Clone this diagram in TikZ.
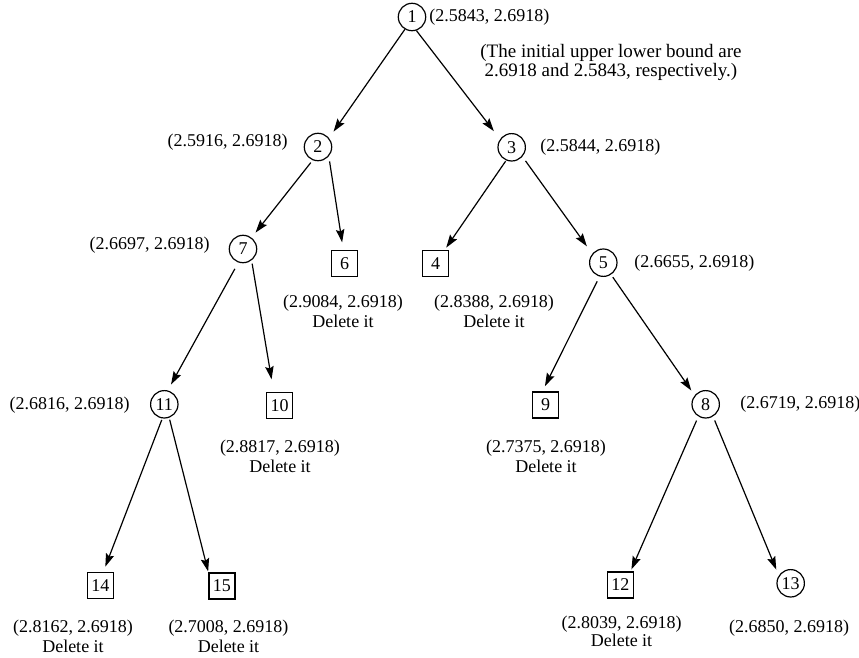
\documentclass[tikz,border=0pt]{standalone}
\usepackage{fontspec}
\setmainfont{Liberation Serif}
\usetikzlibrary{arrows.meta}
\begin{document}
\begin{tikzpicture}[x=0.5pt,y=-0.5pt,
  every node/.style={font=\fontsize{9pt}{10pt}\selectfont, inner sep=0pt},
  cnode/.style={circle, draw, line width=0.6pt, minimum size=13.7pt},
  bnode/.style={rectangle, draw, line width=0.6pt, minimum size=13pt},
  lbl/.style={align=center},
  edge/.style={line width=0.6pt, -{Stealth[length=6.5pt,width=4.2pt,inset=1pt]}},
]
\useasboundingbox (0,0) rectangle (859,658);

% tree nodes
\node[cnode] (n1)  at (412,17)      {1};
\node[cnode] (n2)  at (318,147)     {2};
\node[cnode] (n3)  at (511.7,147.3) {3};
\node[cnode] (n7)  at (243,249)     {7};
\node[bnode] (n6)  at (344.5,263.5) {6};
\node[bnode] (n4)  at (435.5,263.5) {4};
\node[cnode] (n5)  at (603.3,262.7) {5};
\node[cnode] (n11) at (164.3,404.3) {11};
\node[bnode] (n10) at (279.7,405.3) {10};
\node[bnode] (n9)  at (545.7,405)   {9};
\node[cnode] (n8)  at (705.7,404.3) {8};
\node[bnode] (n14) at (100.3,585.8) {14};
\node[bnode] (n15) at (222,586)     {15};
\node[bnode] (n12) at (620.3,585)   {12};
\node[cnode] (n13) at (790.7,583.3) {13};

% edges
\draw[edge, shorten <=0pt,    shorten >=3.85pt] (n1.-120.3) -- (n2.39.4);
\draw[edge, shorten <=0pt,    shorten >=5pt]    (n1.-72.9)  -- (n3.145.7);
\draw[edge, shorten <=1.5pt,  shorten >=3.15pt] (n2.-112.2) -- (n7.53.8);
\draw[edge, shorten <=2.5pt,  shorten >=3.8pt]  (n2.-41.7)  -- (n6.95.7);
\draw[edge, shorten <=0.45pt, shorten >=1.35pt] (n3.-113)   -- (n4.56.2);
\draw[edge, shorten <=2.6pt,  shorten >=4.55pt] (n3.-41.8)  -- (n5.141.2);
\draw[edge, shorten <=3.6pt,  shorten >=3.4pt]  (n7.-109.2) -- (n11.76.8);
\draw[edge, shorten <=1.65pt, shorten >=6.25pt] (n7.-53.6)  -- (n10.114.4);
\draw[edge, shorten <=0.8pt,  shorten >=2.95pt] (n11.-98.6) -- (n14.78.7);
\draw[edge, shorten <=1pt,    shorten >=0.5pt]  (n11.-70.9) -- (n15.north west);
\draw[edge, shorten <=2.7pt,  shorten >=2.95pt] (n5.-105.4) -- (n9.104.2);
\draw[edge, shorten <=1.5pt,  shorten >=2.9pt]  (n5.-57.7)  -- (n8.141.4);
\draw[edge, shorten <=2.2pt,  shorten >=1.1pt]  (n8.-121.8) -- (n12.53);
\draw[edge, shorten <=2.1pt,  shorten >=3.2pt]  (n8.-59.4)  -- (n13.147.4);

% labels
\node[anchor=west] (l1)  at (429,17)    {(2.5843, 2.6918)};
\node[lbl, font=\fontsize{9.5pt}{9.5pt}\selectfont] (note) at (611,62)
  {(The initial upper lower bound are\\2.6918 and 2.5843, respectively.)};
\node[anchor=east] (l2)  at (288,142)   {(2.5916, 2.6918)};
\node[anchor=west] (l3)  at (540,147)   {(2.5844, 2.6918)};
\node[anchor=east] (l7)  at (210,245.5) {(2.6697, 2.6918)};
\node[anchor=west] (l5)  at (634,262.7) {(2.6655, 2.6918)};
\node[anchor=east] (l11) at (130,405)   {(2.6816, 2.6918)};
\node[anchor=west] (l8)  at (740,404)   {(2.6719, 2.6918)};
\node (l13) at (789,628) {(2.6850, 2.6918)};
\node[lbl] (l6)  at (343,311)     {(2.9084, 2.6918)\\Delete it};
\node[lbl] (l4)  at (494,311)     {(2.8388, 2.6918)\\Delete it};
\node[lbl] (l10) at (280,456.5)   {(2.8817, 2.6918)\\Delete it};
\node[lbl] (l9)  at (546,456)     {(2.7375, 2.6918)\\Delete it};
\node[lbl] (l14) at (73,636)      {(2.8162, 2.6918)\\Delete it};
\node[lbl] (l15) at (228.5,636)   {(2.7008, 2.6918)\\Delete it};
\node[lbl, font=\fontsize{9pt}{9pt}\selectfont] (l12) at (621.5,631.5) {(2.8039, 2.6918)\\Delete it};
\end{tikzpicture}
\end{document}
